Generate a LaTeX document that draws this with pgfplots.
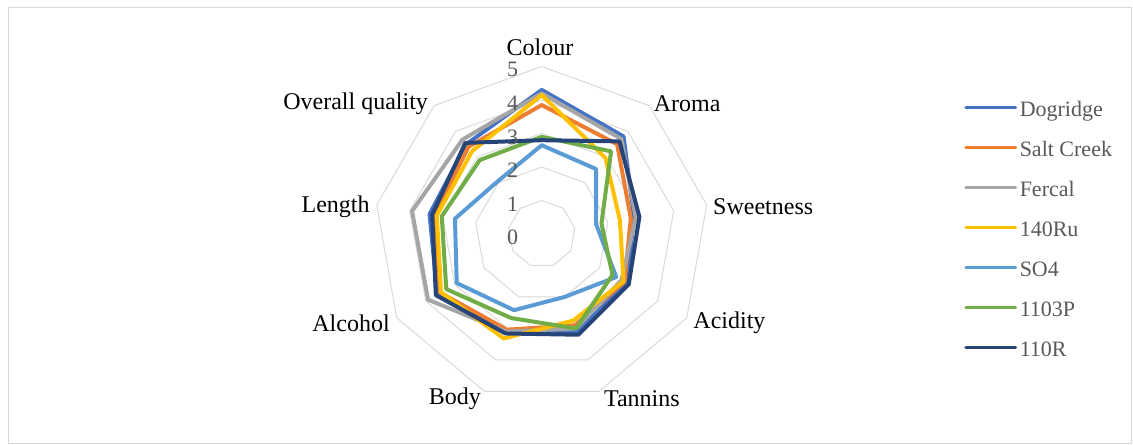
\documentclass[border=0pt]{standalone}
\usepackage{pgfplots}
\pgfplotsset{compat=1.18}
\usepackage{fontspec}
\setmainfont{Liberation Serif}
\definecolor{cDog}{HTML}{4472C4}
\definecolor{cSalt}{HTML}{ED7D31}
\definecolor{cFer}{HTML}{A5A5A5}
\definecolor{cRu}{HTML}{FFC000}
\definecolor{cSO}{HTML}{5B9BD5}
\definecolor{cP}{HTML}{70AD47}
\definecolor{cR}{HTML}{264478}
\definecolor{gridc}{HTML}{D9D9D9}
\definecolor{txtg}{HTML}{595959}
\begin{document}
\begin{tikzpicture}
\useasboundingbox (0,0) rectangle (849.75pt,-333.75pt);
\draw[gridc, line width=0.75pt] (6pt,-6pt) rectangle (848.25pt,-333pt);
\begin{axis}[
  at={(406.3pt,-175.5pt)}, anchor=center,
  x=25.125pt, y=25.125pt,
  xmin=-6, xmax=6, ymin=-6, ymax=6,
  hide axis, clip=false,
  legend cell align=left,
  legend style={at={(axis cs:12.49,4.02)}, anchor=north west, draw=none, fill=none,
    font=\fontsize{16.5}{19}\selectfont, text=txtg, row sep=15pt,
    nodes={inner xsep=2pt, inner ysep=0pt, text height=11pt, text depth=4pt}},
  legend image code/.code={\draw[#1, line width=2pt] (0pt,3.5pt) -- (37.5pt,3.5pt);},
]
% grid rings
\foreach \v in {1,2,3,4,5}{
  \edef\tmp{\noexpand\addplot[gridc, line width=0.75pt, data cs=polar, forget plot] coordinates {(90,\v) (50,\v) (10,\v) (-30,\v) (-70,\v) (-110,\v) (-150,\v) (-190,\v) (-230,\v) (-270,\v)};}
  \tmp
}
\pgfplotsset{every axis plot/.append style={line width=3pt, line join=round, line cap=round}}
\addplot[cDog, data cs=polar] coordinates {(90,4.3) (50,3.8) (10,2.8) (-30,2.93) (-70,3.1) (-110,3.1) (-150,3.6) (-190,3.4) (-230,3.5) (-270,4.3)};
\addlegendentry{Dogridge}
\addplot[cSalt, data cs=polar] coordinates {(90,3.85) (50,3.5) (10,2.7) (-30,2.85) (-70,2.9) (-110,3.04) (-150,3.5) (-190,3.25) (-230,3.4) (-270,3.85)};
\addlegendentry{Salt Creek}
\addplot[cFer, data cs=polar] coordinates {(90,4.2) (50,3.7) (10,2.85) (-30,2.75) (-70,3.0) (-110,3.1) (-150,3.92) (-190,3.93) (-230,3.68) (-270,4.2)};
\addlegendentry{Fercal}
\addplot[cRu, data cs=polar] coordinates {(90,4.15) (50,2.96) (10,2.37) (-30,2.82) (-70,2.75) (-110,3.32) (-150,3.47) (-190,3.18) (-230,3.23) (-270,4.15)};
\addlegendentry{140Ru}
\addplot[cSO, data cs=polar] coordinates {(90,2.65) (50,2.53) (10,1.65) (-30,2.57) (-70,2.0) (-110,2.42) (-150,2.93) (-190,2.63) (-230,2.05) (-270,2.65)};
\addlegendentry{SO4}
\addplot[cP, data cs=polar] coordinates {(90,2.9) (50,3.22) (10,1.81) (-30,2.44) (-70,3.0) (-110,2.67) (-150,3.29) (-190,3.03) (-230,2.88) (-270,2.9)};
\addlegendentry{1103P}
\addplot[cR, data cs=polar] coordinates {(90,2.8) (50,3.61) (10,2.96) (-30,3.0) (-70,3.2) (-110,3.16) (-150,3.65) (-190,3.32) (-230,3.55) (-270,2.8)};
\addlegendentry{110R}
% radial tick labels
\foreach \v in {0,1,2,3,4,5}{
  \edef\tmp{\noexpand\node[text=txtg, font=\noexpand\fontsize{16.5}{19}\noexpand\selectfont, inner sep=0pt] at (axis cs:-0.87,\v-0.1) {\v};}
  \tmp
}
% category labels
\begin{scope}[every node/.style={font=\fontsize{18}{21}\selectfont, inner sep=0pt}]
\node[anchor=center] at (axis cs:-0.05,5.58) {Colour};
\node[anchor=center] at (axis cs:4.34,3.88) {Aroma};
\node[anchor=west] at (axis cs:5.11,0.81) {Sweetness};
\node[anchor=west] at (axis cs:4.52,-2.66) {Acidity};
\node[anchor=center] at (axis cs:2.99,-4.93) {Tannins};
\node[anchor=center] at (axis cs:-2.59,-4.93) {Body};
\node[anchor=east] at (axis cs:-4.53,-2.66) {Alcohol};
\node[anchor=east] at (axis cs:-5.13,0.81) {Length};
\node[anchor=east] at (axis cs:-3.39,3.88) {Overall quality};
\end{scope}
\end{axis}
\end{tikzpicture}
\end{document}
